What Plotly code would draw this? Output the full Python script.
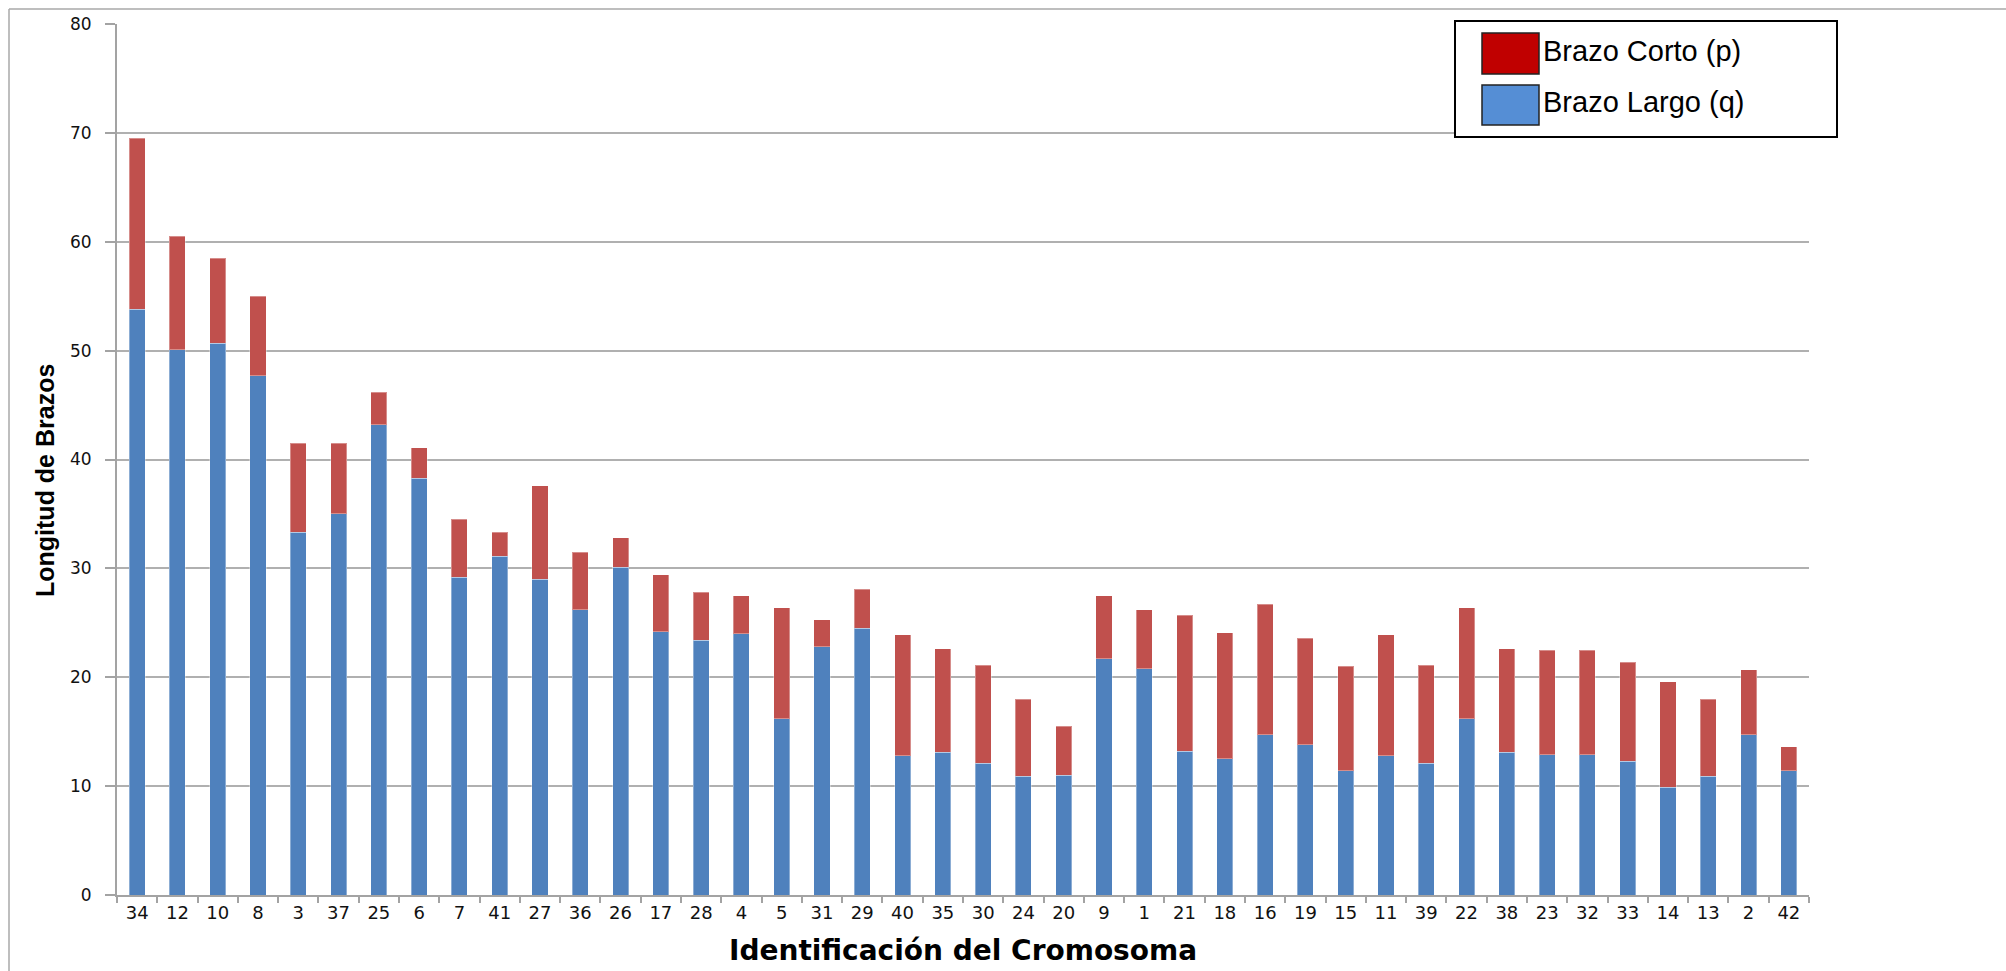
import plotly.graph_objects as go

# Chromosome identifiers, in plotted order
cromosomas = ["34", "12", "10", "8", "3", "37", "25", "6", "7", "41",
              "27", "36", "26", "17", "28", "4", "5", "31", "29", "40",
              "35", "30", "24", "20", "9", "1", "21", "18", "16", "19",
              "15", "11", "39", "22", "38", "23", "32", "33", "14", "13",
              "2", "42"]

# Long arm (q) length, bottom segment
brazo_largo_q = [53.8, 50.1, 50.7, 47.7, 33.3, 35.0, 43.2, 38.3, 29.2, 31.1,
                 29.0, 26.2, 30.1, 24.2, 23.4, 24.0, 16.2, 22.8, 24.5, 12.8,
                 13.1, 12.1, 10.9, 11.0, 21.7, 20.8, 13.2, 12.5, 14.7, 13.8,
                 11.4, 12.8, 12.1, 16.2, 13.1, 12.9, 12.9, 12.3, 9.9, 10.9,
                 14.7, 11.4]

# Short arm (p) length, stacked on top
brazo_corto_p = [15.7, 10.4, 7.8, 7.3, 8.2, 6.5, 3.0, 2.8, 5.3, 2.2,
                 8.6, 5.3, 2.7, 5.2, 4.4, 3.5, 10.2, 2.5, 3.6, 11.1,
                 9.5, 9.0, 7.1, 4.5, 5.8, 5.4, 12.5, 11.6, 12.0, 9.8,
                 9.6, 11.1, 9.0, 10.2, 9.5, 9.6, 9.6, 9.1, 9.7, 7.1,
                 6.0, 2.2]

y_ticks = [0, 10, 20, 30, 40, 50, 60, 70, 80]

# Page and plot-area geometry (pixels)
W, H = 2006, 971
L, R, T, B = 117, 1809, 24, 895


def px_x(px):
    return (px - L) / (R - L)


def px_y(py):
    return (B - py) / (B - T)


AXIS_GREY = "#A3A3A3"
GRID_GREY = "#B0B0B0"

fig = go.Figure()
fig.add_trace(go.Bar(
    x=cromosomas, y=brazo_largo_q, name="Brazo Largo (q)",
    marker=dict(color="#4F81BD", line=dict(color="rgba(255,255,255,0.35)", width=1)),
))
fig.add_trace(go.Bar(
    x=cromosomas, y=brazo_corto_p, name="Brazo Corto (p)",
    marker=dict(color="#C0504D", line=dict(color="rgba(255,255,255,0.35)", width=1)),
))

fig.update_layout(
    width=W, height=H,
    margin=dict(l=L, r=W - R, t=T, b=H - B),
    barmode="stack",
    bargap=0.6,
    showlegend=False,
    paper_bgcolor="white",
    plot_bgcolor="white",
    xaxis=dict(
        type="category",
        showline=True, linecolor=AXIS_GREY, linewidth=2,
        ticks="outside", tickson="boundaries", ticklen=6,
        tickcolor=AXIS_GREY, tickwidth=2,
        tickfont=dict(family="DejaVu Sans", size=18, color="#111"),
        showgrid=False, zeroline=False,
    ),
    yaxis=dict(
        range=[0, 80], tickvals=y_ticks,
        showline=True, linecolor=AXIS_GREY, linewidth=2,
        ticks="outside", ticklen=10, tickcolor=AXIS_GREY, tickwidth=2,
        tickfont=dict(family="DejaVu Sans", size=17, color="#111"),
        ticklabelstandoff=10,
        showgrid=True, gridcolor=GRID_GREY, gridwidth=1.6,
        zeroline=False,
    ),
)

shapes = []
# Outer chart frame (top and left edges)
shapes.append(dict(type="line", xref="paper", yref="paper",
                   x0=px_x(9), x1=px_x(W + 5), y0=px_y(9), y1=px_y(9),
                   line=dict(color="#A8A8A8", width=1.5)))
shapes.append(dict(type="line", xref="paper", yref="paper",
                   x0=px_x(9), x1=px_x(9), y0=px_y(9), y1=px_y(H + 5),
                   line=dict(color="#A8A8A8", width=1.5)))
# Legend box
shapes.append(dict(type="rect", xref="paper", yref="paper", layer="above",
                   x0=px_x(1455), x1=px_x(1837), y0=px_y(137), y1=px_y(21),
                   fillcolor="white", line=dict(color="black", width=2)))
# Legend swatches
legend_items = [("Brazo Corto (p)", "#C00000", 33, 74),
                ("Brazo Largo (q)", "#558ED5", 85, 125)]
annotations = []
for label, color, top, bottom in legend_items:
    shapes.append(dict(type="rect", xref="paper", yref="paper", layer="above",
                       x0=px_x(1482), x1=px_x(1539), y0=px_y(bottom), y1=px_y(top),
                       fillcolor=color, line=dict(color="#222", width=1.5)))
    annotations.append(dict(xref="paper", yref="paper",
                            x=px_x(1541), y=px_y((top + bottom) / 2 - 3),
                            xanchor="left", yanchor="middle", showarrow=False,
                            text=label,
                            font=dict(family="Liberation Sans", size=29, color="black")))

# Axis titles
annotations.append(dict(xref="paper", yref="paper",
                        x=px_x(963), y=px_y(950),
                        xanchor="center", yanchor="middle", showarrow=False,
                        text="<b>Identificación del Cromosoma</b>",
                        font=dict(family="DejaVu Sans", size=28, color="black")))
annotations.append(dict(xref="paper", yref="paper",
                        x=px_x(45), y=px_y(481),
                        xanchor="center", yanchor="middle", showarrow=False,
                        textangle=-90,
                        text="<b>Longitud de Brazos</b>",
                        font=dict(family="Liberation Sans", size=25, color="black")))

fig.update_layout(shapes=shapes, annotations=annotations)

fig.write_html("out.html")
